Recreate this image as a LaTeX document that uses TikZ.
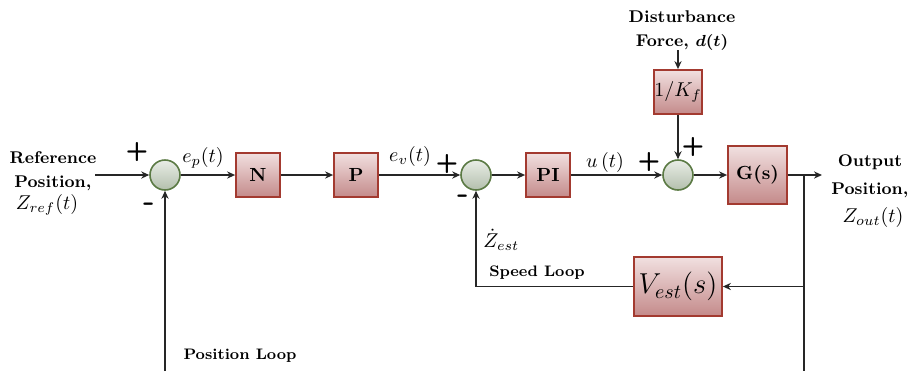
\documentclass[tikz,border=0pt]{standalone}
\usepackage{amsmath,amssymb}
\usepackage{tikz}
\usetikzlibrary{arrows.meta}
\definecolor{blkedge}{HTML}{A33A30}
\definecolor{blktop}{HTML}{F1E0E0}
\definecolor{blkbot}{HTML}{C48A8A}
\definecolor{sumedge}{HTML}{5B7A44}
\definecolor{sumtop}{HTML}{E9EDE7}
\definecolor{sumbot}{HTML}{B3BFAC}
\newcommand{\lblfont}{\fontsize{8.5}{12}\selectfont\bfseries}

\begin{document}
\begin{tikzpicture}[x=0.5pt,y=-0.5pt,
  blk/.style={draw=blkedge,line width=0.9pt,top color=blktop,bottom color=blkbot,
    minimum width=22pt,minimum height=22pt,inner sep=0pt,font=\fontsize{9.5}{11}\selectfont\bfseries},
  sumnode/.style={circle,draw=sumedge,line width=0.8pt,top color=sumtop,bottom color=sumbot,
    minimum size=15pt,inner sep=0pt},
  sig/.style={line width=0.9pt,draw=black!85},
  arr/.style={sig,-{Stealth[length=4pt,width=3.6pt]}},
  lbl/.style={font=\lblfont,align=center},
  sgn/.style={font=\fontsize{13}{13}\selectfont\sffamily\bfseries,inner sep=0pt},
  sgnminus/.style={font=\fontsize{16}{16}\selectfont\sffamily\bfseries,inner sep=0pt}]
  \useasboundingbox (0,0) rectangle (912,371);
  % blocks and summing points
  \node[sumnode] (sum1) at (165,175) {};
  \node[blk] (gainN) at (258,175) {N};
  \node[blk] (gainP) at (356,175) {P};
  \node[sumnode] (sum2) at (476,175) {};
  \node[blk] (ctrlPI) at (548,175) {PI};
  \node[sumnode] (sum3) at (678,175) {};
  \node[blk,minimum width=29.5pt,minimum height=29pt] (plant) at (757.5,175) {G(s)};
  \node[blk,font=\fontsize{10}{11}\selectfont] (invK) at (678,92) {$1/K_f$};
  \node[blk,minimum width=44pt,minimum height=29.5pt,font=\fontsize{14.5}{16}\selectfont] (vest) at (678,286.5) {$V_{est}(s)$};
  % free ends
  \coordinate (refin) at (95,175);
  \coordinate (dist) at (678,50);
  \coordinate (zout) at (822,175);
  \coordinate (branch) at (804,175);
  \coordinate (posbot) at (165,371);
  \coordinate (outbot) at (804,371);
  % forward path
  \draw[arr] (refin) -- (sum1);
  \draw[arr] (sum1) -- (gainN);
  \draw[arr] (gainN) -- (gainP);
  \draw[arr] (gainP) -- (sum2);
  \draw[arr] (sum2) -- (ctrlPI);
  \draw[arr] (ctrlPI) -- (sum3);
  \draw[arr] (sum3) -- (plant);
  \draw[arr] (plant) -- (zout);
  \draw[arr] (dist) -- (invK);
  \draw[arr] (invK) -- (sum3);
  % feedback loops
  \draw[sig] (branch) -- (outbot);
  \draw[arr] (branch |- vest.east) -- (vest.east);
  \draw[arr] (vest.west) -| (sum2.south);
  \draw[arr] (posbot) -- (sum1.south);
  % texts
  \node[lbl] (reflbl) at (53,171) {Reference\\Position,};
  \node (zref) at (47,205) {$Z_{ref}(t)$};
  \node[lbl] (distlbl) at (682,31) {Disturbance\\Force, $\boldsymbol{d(t)}$};
  \node[lbl,font=\fontsize{8.5}{14}\selectfont\bfseries] (outlbl) at (870,176) {Output\\Position,};
  \node (zoutlbl) at (873,217) {$Z_{out}(t)$};
  \node (eplbl) at (203,158) {$e_p(t)$};
  \node (evlbl) at (410,156) {$e_v(t)$};
  \node (ulbl) at (605,162) {$u\,(t)$};
  \node[anchor=west,inner sep=1pt] (zestlbl) at (481,240) {$\dot{Z}_{est}$};
  \node[lbl,font=\fontsize{7.6}{9}\selectfont\bfseries] (speedlbl) at (537,273) {Speed Loop};
  \node[lbl,font=\fontsize{7.6}{9}\selectfont\bfseries] (poslbl) at (240,356) {Position Loop};
  \node[sgn] (s1p) at (137,152) {+};
  \node[sgnminus] (s1m) at (149,207) {-};
  \node[sgn] (s2p) at (447,164) {+};
  \node[sgnminus] (s2m) at (463,199) {-};
  \node[sgn] (s3p) at (649,162) {+};
  \node[sgn] (s3t) at (693,147) {+};
\end{tikzpicture}
\end{document}
